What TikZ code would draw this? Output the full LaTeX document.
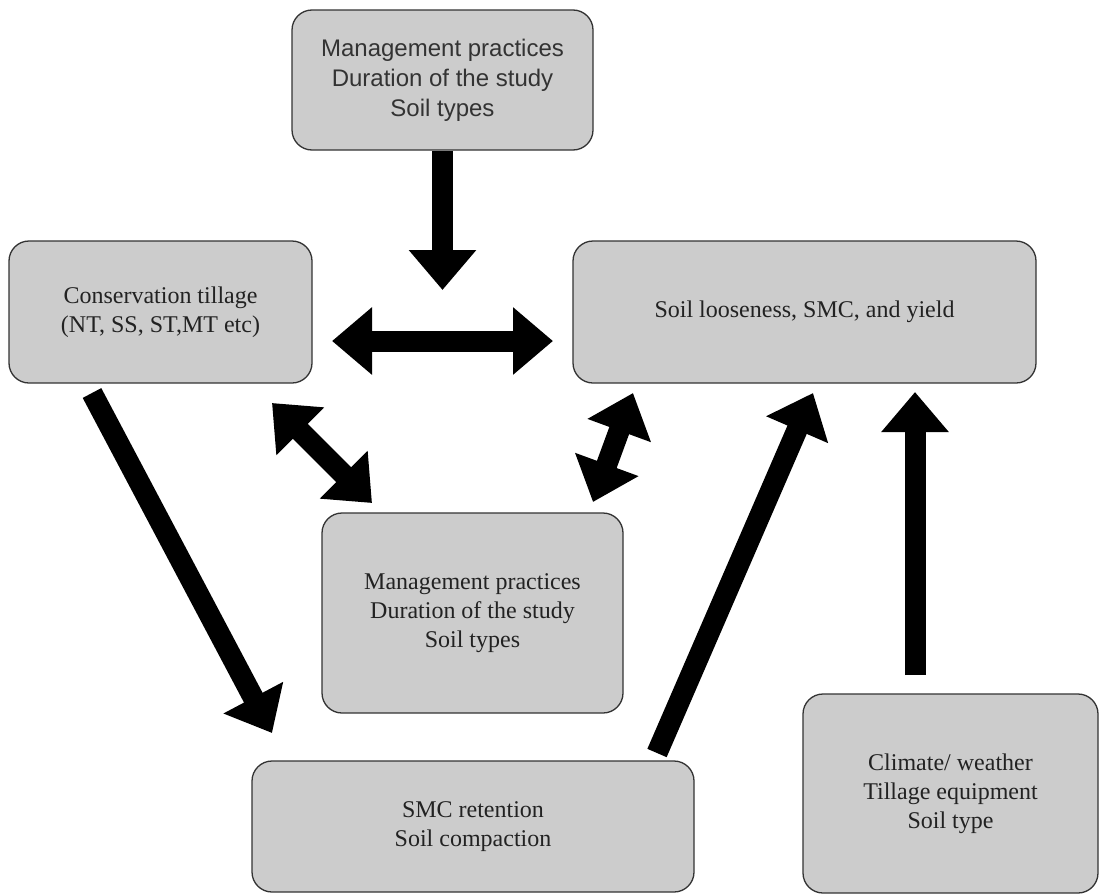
\documentclass[tikz,border=0pt]{standalone}
\usepackage{fontspec}
\setmainfont{Liberation Serif}
\newfontfamily\topfont{Liberation Sans}
\usetikzlibrary{arrows.meta}
\definecolor{boxfill}{HTML}{CCCCCC}
\definecolor{boxline}{HTML}{333333}
\definecolor{txt}{HTML}{222222}
\begin{document}
\begin{tikzpicture}[x=1pt,y=-1pt,
  box/.style={draw=boxline, line width=1.3pt, fill=boxfill, rounded corners=20pt,
    align=center, text=txt, font=\fontsize{24}{29}\selectfont, inner sep=0pt},
  blockarrow/.style={line width=21pt, draw=black, -{Triangle[width=65pt,length=40pt]}},
  dblarrow/.style={line width=21pt, draw=black,
    {Triangle[width=65pt,length=40pt]}-{Triangle[width=65pt,length=40pt]}}]
\useasboundingbox (0,0) rectangle (1099,894);
% boxes
\node[box, minimum width=301pt, minimum height=140pt,
  font=\topfont\fontsize{24}{30}\selectfont, text=black!80] (top) at (442.5,80)
  {Management practices\\Duration of the study\\Soil types};
\node[box, minimum width=303pt, minimum height=142pt] (cons) at (160.5,312)
  {Conservation tillage\\(NT, SS, ST,MT etc)};
\node[box, minimum width=463pt, minimum height=142pt] (soil) at (804.5,312)
  {Soil looseness, SMC, and yield};
\node[box, minimum width=301pt, minimum height=200pt] (mid) at (472.5,613)
  {Management practices\\Duration of the study\\Soil types};
\node[box, minimum width=442pt, minimum height=131pt] (smc) at (473,826.5)
  {SMC retention\\Soil compaction};
\node[box, minimum width=295pt, minimum height=199pt] (clim) at (950.5,793.5)
  {Climate/ weather\\Tillage equipment\\Soil type};
% arrow end points
\coordinate (topTip) at (442.5,290);
\coordinate (hL) at (332,341);
\coordinate (hR) at (553,341);
\coordinate (dLa) at (272,403);
\coordinate (dLb) at (372,503);
\coordinate (dRa) at (633,393);
\coordinate (dRb) at (593,502);
\coordinate (consTail) at (92,393);
\coordinate (smcTip) at (272,733);
\coordinate (smcTail) at (657,753);
\coordinate (soilTip1) at (813,393);
\coordinate (climTail) at (915,675);
\coordinate (soilTip2) at (915,392);
% arrows
\draw[blockarrow] (top.south) -- (topTip);
\draw[dblarrow] (hL) -- (hR);
\draw[dblarrow] (dLa) -- (dLb);
\draw[dblarrow] (dRa) -- (dRb);
\draw[blockarrow] (consTail) -- (smcTip);
\draw[blockarrow] (smcTail) -- (soilTip1);
\draw[blockarrow] (climTail) -- (soilTip2);
\end{tikzpicture}
\end{document}
